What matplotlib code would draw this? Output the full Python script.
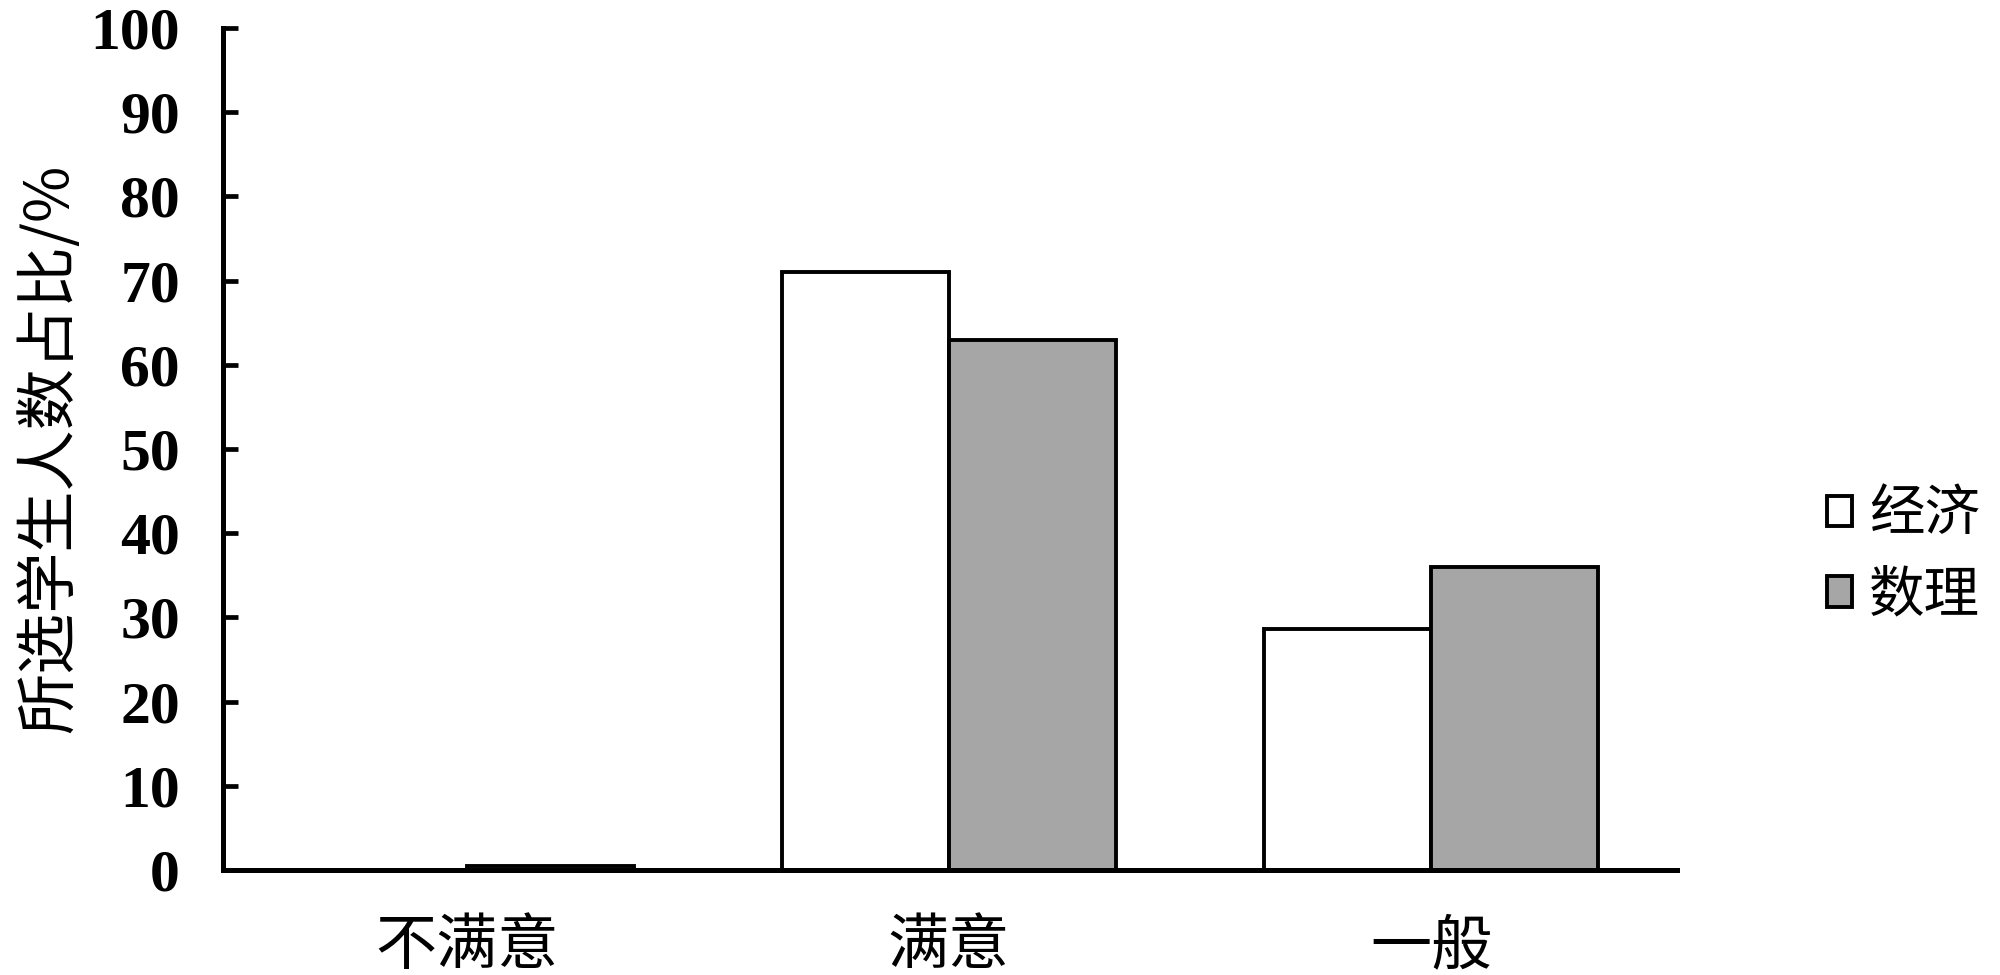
import matplotlib
matplotlib.use("Agg")
import matplotlib.pyplot as plt
import numpy as np

categories = ["不满意", "满意", "一般"]
series_names = ["经济", "数理"]
econ = [0.0, 71.0, 28.6]
math_phys = [0.5, 63.0, 36.0]
yticks = [0, 10, 20, 30, 40, 50, 60, 70, 80, 90, 100]
ylabel = "所选学生人数占比/%"

cjk = ["Noto Sans CJK SC", "DejaVu Sans"]
serif = ["Liberation Serif", "DejaVu Serif"]

fig = plt.figure(figsize=(20, 9.75), dpi=100)
ax = fig.add_axes([223/2000, 1-870/975, (1677-223)/2000, (870-28)/975])

x = np.arange(len(categories))
w = 0.346
lw_edge = 2.8
ax.bar(x - w/2, econ, width=w, color="white", edgecolor="black", linewidth=lw_edge, label=series_names[0], zorder=2)
ax.bar(x + w/2, math_phys, width=w, color="#a6a6a6", edgecolor="black", linewidth=lw_edge, label=series_names[1], zorder=2)

ax.set_xlim(-0.506, 2.51)
ax.set_ylim(0, 100)
for s in ["top", "right"]:
    ax.spines[s].set_visible(False)
for s in ["left", "bottom"]:
    ax.spines[s].set_linewidth(3.6)
    ax.spines[s].set_zorder(3)

ax.set_yticks(yticks)
ax.set_yticklabels([str(v) for v in yticks], family=serif, fontweight="bold", fontsize=43)
ax.tick_params(axis="y", direction="in", length=11, width=3.4, pad=31)
ax.set_xticks(x)
ax.set_xticklabels(categories, family=cjk, fontsize=44)
ax.tick_params(axis="x", length=0, pad=33)

fig.text(50/2000, 1-448/975, ylabel, rotation=90, ha="center", va="center", family=cjk, fontsize=44)

leg = ax.legend(loc="center left", bbox_to_anchor=(1.103, 0.374), frameon=False,
                prop={"family": cjk, "size": 40}, handlelength=0.46, handleheight=0.46,
                handletextpad=0.3, labelspacing=0.42, borderpad=0, borderaxespad=0)

fig.savefig("out.png", dpi=100, facecolor="white")
